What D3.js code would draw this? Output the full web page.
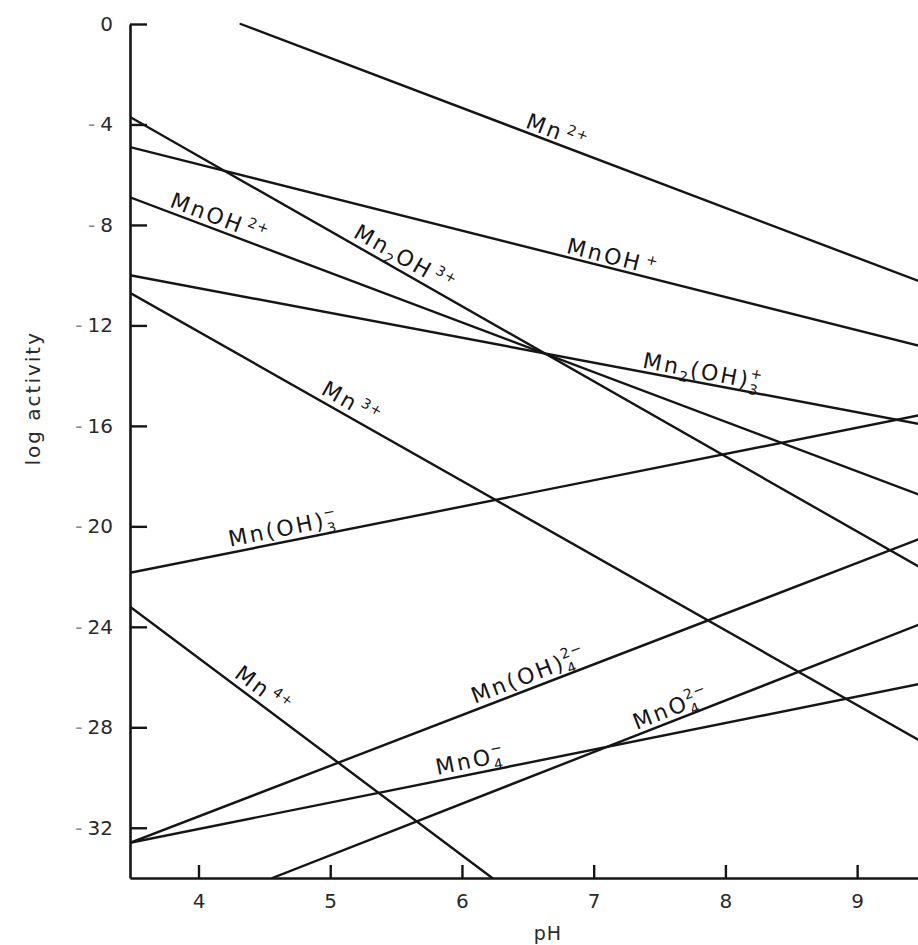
<!DOCTYPE html>
<html>
<head>
<meta charset="utf-8">
<script src="https://cdn.jsdelivr.net/npm/d3@7"></script>
<style>
  body { margin: 0; background: #fff; }
  svg { display: block; }
</style>
</head>
<body>
<svg id="chart" width="918" height="945"></svg>
<script>
// Manganese species activity lines: each is a straight segment in (pH, log activity)
const species  = ["Mn2+", "MnOH+", "MnOH2+", "Mn2OH3+", "Mn2(OH)3+", "Mn3+", "Mn(OH)3-", "Mn4+", "Mn(OH)4 2-", "MnO4-", "MnO4 2-"];
const startPH  = [4.32, 3.48, 3.48, 3.48, 3.48, 3.48, 3.48, 3.48, 3.48, 3.48, 4.56];
const startLog = [0, -4.9, -6.9, -3.7, -10.0, -10.7, -21.85, -23.2, -32.6, -32.6, -34];
const endPH    = [9.5, 9.5, 9.5, 9.5, 9.5, 9.5, 9.5, 6.23, 9.5, 9.5, 9.5];
const endLog   = [-10.3, -12.85, -18.8, -21.7, -15.95, -28.6, -15.55, -34, -20.45, -26.25, -23.85];

const xTicks = [4, 5, 6, 7, 8, 9];
const yTicks = [0, -4, -8, -12, -16, -20, -24, -28, -32];

// Formula pieces for each species label: [text, kind]
const labelParts = [
  [["Mn"], ["2+", "sup"]],
  [["MnOH"], ["+", "sup"]],
  [["MnOH"], ["2+", "sup"]],
  [["Mn"], ["2", "sub"], ["OH"], ["3+", "sup"]],
  [["Mn"], ["2", "sub"], ["(OH)"], ["3", "sub"], ["+", "over"]],
  [["Mn"], ["3+", "sup"]],
  [["Mn(OH)"], ["3", "sub"], ["\u2212", "over"]],
  [["Mn"], ["4+", "sup"]],
  [["Mn(OH)"], ["4", "sub"], ["2\u2212", "over"]],
  [["MnO"], ["4", "sub"], ["\u2212", "over"]],
  [["MnO"], ["4", "sub"], ["2\u2212", "over"]]
];

// Where along each line its label sits (pH) and how far above the line (px)
const labelPH  = [6.69, 7.12, 4.125, 5.515, 7.81, 5.11, 4.66, 4.43, 6.54, 6.08, 7.62];
const labelGap = [4, 4, 5, 6, 4, 6, 6, 6, 6, 6, 5];

const svg = d3.select("#chart");
const ink = "#151515";
const font = "'DejaVu Sans', sans-serif";

const x = d3.scaleLinear().domain([3.48, 9.5]).range([130, 923]);
const y = d3.scaleLinear().domain([0, -34]).range([24, 878]);

svg.append("defs").append("clipPath").attr("id", "plot")
  .append("rect")
  .attr("x", x(3.48)).attr("y", y(0) - 4)
  .attr("width", x(9.5) - x(3.48)).attr("height", y(-34) - y(0) + 4);

const lines = species.map((name, i) => ({
  name,
  a: [startPH[i], startLog[i]],
  b: [endPH[i], endLog[i]]
}));

// Species lines
svg.append("g").attr("clip-path", "url(#plot)")
  .selectAll("line").data(lines).join("line")
  .attr("x1", d => x(d.a[0])).attr("y1", d => y(d.a[1]))
  .attr("x2", d => x(d.b[0])).attr("y2", d => y(d.b[1]))
  .attr("stroke", ink).attr("stroke-width", 2.4).attr("stroke-linecap", "round");

// Axes
const xAxis = svg.append("g")
  .attr("transform", `translate(0,${y(-34)})`)
  .call(d3.axisBottom(x).tickValues(xTicks).tickSize(-13).tickSizeOuter(0).tickPadding(16).tickFormat(d3.format("d")));

const yAxis = svg.append("g")
  .attr("transform", `translate(${x(3.48)},0)`)
  .call(d3.axisLeft(y).tickValues(yTicks).tickSize(-17).tickSizeOuter(0).tickPadding(17));

[xAxis, yAxis].forEach(g => {
  g.select(".domain").attr("stroke", ink).attr("stroke-width", 2.6);
  g.selectAll(".tick line").attr("stroke", ink).attr("stroke-width", 2.4);
  g.selectAll(".tick text").attr("fill", "#2a2a2a").attr("font-family", font).attr("font-size", 20);
});

// Negative tick labels: a light dash set apart from the digits
yAxis.selectAll(".tick text").each(function(d) {
  const t = d3.select(this).text(null);
  if (d < 0) {
    t.append("tspan").attr("fill", "#8a8a8a").text("-");
    t.append("tspan").attr("dx", 5).text(Math.abs(d));
  } else {
    t.text(d);
  }
});

// Axis titles
svg.append("text")
  .attr("x", 548).attr("y", 940)
  .attr("text-anchor", "middle")
  .attr("font-family", font).attr("font-size", 19).attr("fill", "#2a2a2a")
  .attr("letter-spacing", 1)
  .text("pH");

svg.append("text")
  .attr("transform", `translate(40,${y(-14.9)}) rotate(-90)`)
  .attr("text-anchor", "middle")
  .attr("font-family", font).attr("font-size", 20).attr("fill", "#2a2a2a")
  .attr("letter-spacing", 2)
  .text("log activity");

// Species labels, laid along their lines
const shift = { "": 0, sub: 6, sup: -9, over: -10 };
const labels = svg.append("g")
  .attr("font-family", font).attr("fill", ink);

lines.forEach((ln, i) => {
  const t = (labelPH[i] - ln.a[0]) / (ln.b[0] - ln.a[0]);
  const v = ln.a[1] + t * (ln.b[1] - ln.a[1]);
  const px = x(labelPH[i]), py = y(v);
  const ang = Math.atan2(y(ln.b[1]) - y(ln.a[1]), x(ln.b[0]) - x(ln.a[0])) * 180 / Math.PI;

  const g = labels.append("g").attr("transform", `translate(${px},${py}) rotate(${ang})`);
  const text = g.append("text")
    .attr("x", 0).attr("y", -labelGap[i])
    .attr("text-anchor", "middle")
    .attr("font-size", 22).attr("letter-spacing", 2.5);

  let cur = 0, prev = null;
  labelParts[i].forEach(([str, kind = ""]) => {
    const span = text.append("tspan").text(str)
      .attr("dy", shift[kind] - cur);
    if (kind) span.attr("font-size", 14).attr("letter-spacing", 1);
    if (kind === "sup") span.attr("dx", 3);
    if (kind === "over" && prev) span.attr("dx", -prev.node().getComputedTextLength() - 1);
    cur = shift[kind];
    prev = span;
  });
});
</script>
</body>
</html>
